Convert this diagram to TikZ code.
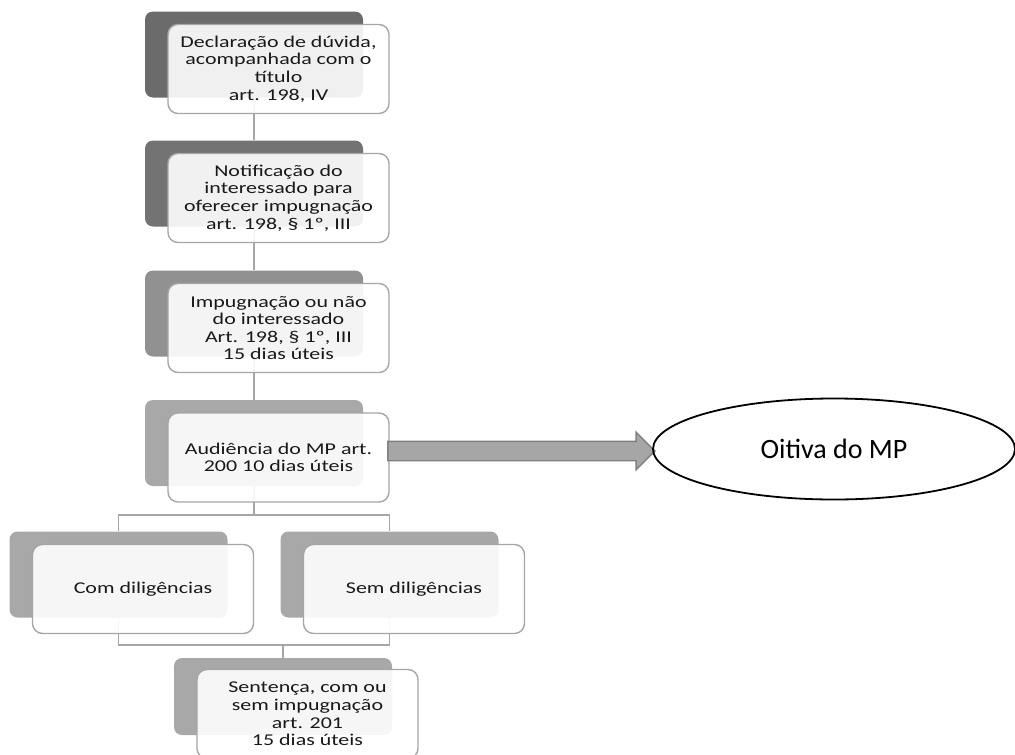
\documentclass[tikz,border=0pt]{standalone}
\usepackage{fontspec}
\setmainfont{Carlito}
\newfontfamily\boxfont[FakeStretch=1.33]{Carlito}
\usepackage{xcolor}
\usepackage{tikz}
\usetikzlibrary{positioning, shapes.geometric, shapes.arrows}
\pgfdeclarelayer{bg}
\pgfsetlayers{bg,main}
\tikzset{
    back/.style={rectangle, rounded corners=8pt, minimum width=218pt, minimum height=86pt, inner sep=0pt},
    card/.style={rectangle, draw=black!35, line width=1.4pt, rounded corners=10pt, fill=white, fill opacity=0.9, text opacity=1, minimum width=221pt, minimum height=89pt, inner sep=0pt, align=center, text=black!90, font=\boxfont\fontsize{16.5}{17.6}\selectfont},
    link/.style={draw=black!35, line width=1.4pt},
    bigarrow/.style={single arrow, draw=black!50, line width=1.4pt, fill=black!35, inner xsep=0pt, inner ysep=9pt, single arrow head extend=9pt, minimum height=267pt},
    oval/.style={ellipse, draw=black, line width=1.8pt, minimum width=362pt, minimum height=101pt, inner sep=0pt, font=\fontsize{28}{30}\selectfont}
}

\begin{document}
\begin{tikzpicture}[x=1pt, y=-1pt]
        \useasboundingbox (0,0) rectangle (1015,755);
        \clip (0,0) rectangle (1015,755);

        % Main column
        \node[back, fill=black!58] (DeclBack) at (254,54.5) {};
        \node[card, xshift=24.5pt, yshift=-14.5pt] (Decl) at (DeclBack) {Declaração de dúvida,\\acompanhada com o\\título\\art. 198, IV};

        \node[back, fill=black!55] (NotifBack) at (254,183.5) {};
        \node[card, xshift=24.5pt, yshift=-14.5pt] (Notif) at (NotifBack) {Notificação do\\interessado para\\oferecer impugnação\\art. 198, § 1º, III};

        \node[back, fill=black!43] (ImpugBack) at (254,313.5) {};
        \node[card, xshift=24.5pt, yshift=-14.5pt] (Impug) at (ImpugBack) {Impugnação ou não\\do interessado\\Art. 198, § 1º, III\\15 dias úteis};

        \node[back, fill=black!34] (AudiBack) at (254,443) {};
        \node[card, xshift=24.5pt, yshift=-14.5pt] (Audi) at (AudiBack) {Audiência do MP art.\\200 10 dias úteis};

        % Branches
        \node[back, fill=black!34] (ComBack) at (118.5,574.5) {};
        \node[card, xshift=24.5pt, yshift=-14.5pt] (Com) at (ComBack) {Com diligências};

        \node[back, fill=black!34] (SemBack) at (389.5,574.5) {};
        \node[card, xshift=24.5pt, yshift=-14.5pt] (Sem) at (SemBack) {Sem diligências};

        \node[back, fill=black!34, minimum height=77pt] (SentBack) at (283,696.5) {};
        \node[card, xshift=24.5pt, yshift=-17.5pt] (Sent) at (SentBack) {Sentença, com ou\\sem impugnação\\art. 201\\15 dias úteis};

        % MP
        \node[bigarrow] (Arrow) at (516.5,451) {};
        \node[oval] (Oitiva) at (834,449) {Oitiva do MP};

        % Lines
        \coordinate (Split) at (254,515);
        \coordinate (Join) at (283,645);
        \begin{pgfonlayer}{bg}
            \draw[link] (DeclBack) -- (NotifBack);
            \draw[link] (NotifBack) -- (ImpugBack);
            \draw[link] (ImpugBack) -- (AudiBack);
            \draw[link] (AudiBack) -- (Split);
            \draw[link] (ComBack) |- (Split) -| (SemBack);
            \draw[link] (ComBack) |- (Join) -| (SemBack);
            \draw[link] (Join) -- (SentBack);
        \end{pgfonlayer}
    \end{tikzpicture}
\end{document}
